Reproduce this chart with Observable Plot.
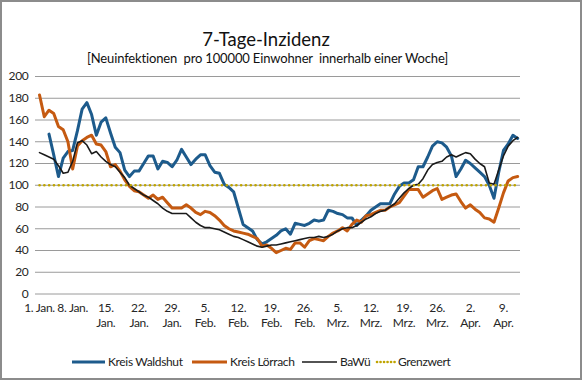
<!DOCTYPE html>
<html><head><meta charset="utf-8">
<script src="https://cdn.jsdelivr.net/npm/d3@7"></script>
<script src="https://cdn.jsdelivr.net/npm/@observablehq/plot@0.6"></script>
<style>
body{margin:0;background:#fff;position:relative;width:584px;height:382px;overflow:hidden;font-family:Lato,"Noto Sans",sans-serif;}
#frame{position:absolute;left:0;top:0;width:582px;height:380px;box-sizing:border-box;border:2px solid #8c8c8c;}
#title{position:absolute;left:0;width:532px;top:28px;text-align:center;font-size:18.5px;line-height:22px;color:#111;}
#subtitle{position:absolute;left:0;width:535px;top:50px;text-align:center;font-size:13px;letter-spacing:-0.15px;line-height:16px;color:#111;white-space:pre;}
#chart{position:absolute;left:0;top:60px;}
.lg{position:absolute;top:354px;font-size:12px;letter-spacing:-0.35px;line-height:16px;color:#222;white-space:nowrap;}
.sw{position:absolute;top:354px;}
</style></head><body>
<div id="frame"></div>
<div id="title">7-Tage-Inzidenz</div>
<div id="subtitle">[Neuinfektionen  pro 100000 Einwohner  innerhalb einer Woche]</div>
<div id="chart"></div>
<div id="legend"></div>
<script>
// ---- data ----
const seriesNames = ["Kreis Waldshut", "Kreis Lörrach", "BaWü", "Grenzwert"];
const seriesColors = ["#1d5b8c", "#c55a11", "#1a1a1a", "#bfa400"];
const startYear = 2021, startMonth = 0, startDay = 1; // first category: 1. Jan.
const waldshut = [null,null,147,128,108,125,131,132,150,170,
  176,165,146,158,162,148,135,130,114,108,
  113,113,120,127,127,115,122,121,117,123,
  133,126,119,124,128,128,118,112,111,101,
  98,94,79,64,61,58,50,46,48,51,
  54,58,60,55,65,64,63,65,68,67,
  68,77,76,74,73,70,70,63,68,72,
  77,80,83,83,83,92,99,102,102,105,
  117,117,126,136,140,139,135,127,108,115,
  123,120,116,112,108,100,88,112,132,138,
  146,143];
const loerrach = [183,163,169,166,154,151,140,115,136,141,
  144,146,138,137,131,117,119,113,105,99,
  95,94,91,88,91,87,89,84,79,79,
  79,82,79,75,73,76,75,72,68,63,
  60,58,57,56,55,53,51,44,45,42,
  38,40,42,41,47,47,43,49,51,50,
  49,53,56,58,61,58,64,68,66,72,
  73,75,77,77,80,82,84,90,96,96,
  96,89,92,95,97,87,89,91,92,85,
  79,82,78,75,70,69,66,79,93,104,
  107,108];
const bawue = [130,128,126,124,118,111,112,122,139,141,
  137,129,131,126,122,119,117,112,107,100,
  97,94,91,89,86,83,79,76,74,74,
  74,74,70,66,63,61,61,60,59,57,
  55,53,52,50,48,46,44,43,44,45,
  45,46,47,48,49,50,51,52,52,53,
  52,53,55,58,60,61,61,63,66,69,
  71,74,76,77,80,83,88,93,97,100,
  101,106,114,119,121,122,126,128,126,128,
  130,129,124,120,117,102,101,114,127,136,
  141,144];
const grenzwert = 100;
const yTicks = [0,20,40,60,80,100,120,140,160,180,200];
const tickDayOffsets = [0,7,14,21,28,35,42,49,56,63,70,77,84,91,98];
const tickLabels = ["1. Jan.","8. Jan.","15.\nJan.","22.\nJan.","29.\nJan.","5.\nFeb.","12.\nFeb.","19.\nFeb.","26.\nFeb.","5.\nMrz.","12.\nMrz.","19.\nMrz.","26.\nMrz.","2.\nApr.","9.\nApr."];

// ---- build table ----
const DAY = 864e5;
const t0 = Date.UTC(startYear, startMonth, startDay);
const rows = loerrach.map((v, i) => ({
  date: new Date(t0 + i * DAY),
  waldshut: waldshut[i],
  loerrach: v,
  bawue: bawue[i],
  grenzwert: grenzwert
}));
const tickDates = tickDayOffsets.map(o => new Date(t0 + o * DAY));
const labelByTime = new Map(tickDates.map((d, i) => [+d, tickLabels[i]]));

const chart = Plot.plot({
  width: 584, height: 275,
  marginLeft: 35, marginRight: 64, marginTop: 16, marginBottom: 41.5,
  style: {fontFamily: "Lato, 'Noto Sans', sans-serif", fontSize: "12px", letterSpacing: "-0.3px", color: "#262626", background: "transparent", overflow: "visible"},
  x: {type: "utc", domain: [new Date(t0 - 0.85 * DAY), new Date(t0 + 101.6 * DAY)], label: null},
  y: {domain: [0, 200], label: null},
  marks: [
    Plot.gridY(yTicks, {stroke: "#9a9a9a", strokeOpacity: 1, strokeWidth: 1}),
    Plot.axisY(yTicks, {tickSize: 0, tickPadding: 7, label: null}),
    Plot.axisX(tickDates, {tickSize: 0, tickPadding: 7, label: null, lineHeight: 1.25, tickFormat: d => labelByTime.get(+d)}),
    Plot.line(rows, {x: "date", y: "waldshut", stroke: seriesColors[0], strokeWidth: 3}),
    Plot.line(rows, {x: "date", y: "loerrach", stroke: seriesColors[1], strokeWidth: 3}),
    Plot.line(rows, {x: "date", y: "bawue", stroke: seriesColors[2], strokeWidth: 1.6}),
    Plot.line(rows, {x: "date", y: "grenzwert", stroke: seriesColors[3], strokeWidth: 2.6, strokeDasharray: "0.1,4.7", strokeLinecap: "round"})
  ]
});
document.getElementById("chart").appendChild(chart);

// ---- legend ----
const legendPos = [[72, 105, 108], [192, 227, 230], [302, 337, 340], [377, 395, 398]];
const lg = document.getElementById("legend");
seriesNames.forEach((name, i) => {
  const [x1, x2, tx] = legendPos[i];
  const svgNS = "http://www.w3.org/2000/svg";
  const s = document.createElementNS(svgNS, "svg");
  s.setAttribute("class", "sw");
  s.setAttribute("width", x2 - x1 + 4);
  s.setAttribute("height", 16);
  s.style.left = (x1 - 2) + "px";
  const l = document.createElementNS(svgNS, "line");
  l.setAttribute("x1", 2); l.setAttribute("x2", x2 - x1 + 2);
  l.setAttribute("y1", 8); l.setAttribute("y2", 8);
  l.setAttribute("stroke", seriesColors[i]);
  l.setAttribute("stroke-width", i < 2 ? 3 : (i === 2 ? 1.6 : 2.6));
  if (i === 3) { l.setAttribute("stroke-dasharray", "0.1,3.4"); l.setAttribute("stroke-linecap", "round"); }
  s.appendChild(l);
  lg.appendChild(s);
  const t = document.createElement("div");
  t.className = "lg"; t.style.left = tx + "px"; t.textContent = name;
  lg.appendChild(t);
});
</script>
</body></html>
